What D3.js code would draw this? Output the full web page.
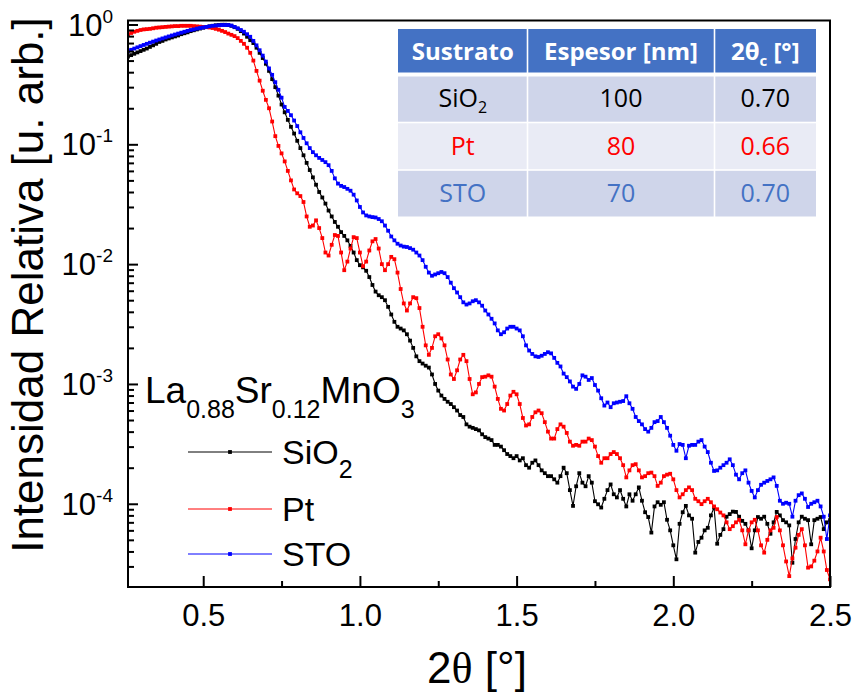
<!DOCTYPE html>
<html>
<head>
<meta charset="utf-8">
<script src="https://cdn.jsdelivr.net/npm/d3@7"></script>
<style>
  body { margin: 0; background: #fff; }
  svg { display: block; }
</style>
</head>
<body>
<svg id="chart" width="854" height="695"></svg>
<script>
// Reflectivity scans: normalized intensity vs 2θ, sampled every 0.01° from 0.26° to 2.50°
const scanStart = 0.26;
const scanStep = 0.01;

const sio2 = [
  0.54,0.555,0.57,0.585,0.60,0.615,0.63,0.65,0.67,0.69,
  0.715,0.73,0.75,0.765,0.78,0.795,0.81,0.83,0.845,0.86,
  0.88,0.895,0.91,0.925,0.94,0.955,0.965,0.975,0.985,0.99,
  0.995,0.995,0.99,0.975,0.95,0.92,0.88,0.84,0.79,0.74,
  0.70,0.64,0.58,0.525,0.47,0.41,0.35,0.30,0.255,0.215,
  0.185,0.16,0.14,0.123,0.107,0.093,0.081,0.070,0.061,0.053,
  0.046,0.040,0.036,0.032,0.028,0.025,0.0225,0.0205,0.0185,0.0172,
  0.0158,0.0142,0.0125,0.0108,0.0098,0.0094,0.0088,0.0078,0.0067,0.0059,
  0.0055,0.0053,0.0050,0.0044,0.0038,0.0033,0.0030,0.0029,0.0028,0.0026,
  0.0023,0.0020,0.0017,0.00155,0.00148,0.00142,0.00137,0.0012,0.0010,0.00088,
  0.0008,0.00075,0.00071,0.00068,0.00064,0.0006,0.00055,0.00053,0.00046,0.00044,
  0.00043,0.00042,0.00041,0.00038,0.00036,0.00035,0.00034,0.00031,0.00031,0.0003,
  0.00028,0.00026,0.00025,0.00024,0.00025,0.00023,0.00024,0.00021,0.0002,0.00022,
  0.00023,0.00021,0.00019,0.00018,0.00017,0.00017,0.00016,0.00015,0.00017,0.0002,
  0.00018,0.00013,0.000096,0.00014,0.00018,0.00015,0.00014,0.00017,0.00015,0.000105,
  0.000099,0.000093,0.00011,0.00013,0.000145,0.00012,0.000113,0.00013,0.00011,0.000095,
  0.00012,0.000106,0.00012,0.000137,0.000106,0.000085,0.0000775,0.0000575,0.000095,0.000103,
  0.000098,0.000103,0.0000735,0.00006,0.000045,0.0000344,0.000068,0.000085,0.000096,0.00008,
  0.000075,0.0000391,0.000048,0.0000521,0.00006,0.000063,0.00008,0.000093,0.0000464,0.000055,
  0.0000614,0.000078,0.000082,0.000086,0.0000855,0.000078,0.000072,0.000068,0.00006,0.0000425,
  0.00006,0.0000775,0.000075,0.000078,0.000068,0.0000562,0.00007,0.0000855,0.00008,0.000073,
  0.00007,0.000066,0.0000322,0.0000508,0.00007,0.000078,0.000075,0.000073,0.0000459,0.000073,
  0.000075,0.0000775,0.0000614,0.00007,0.000073
];

const pt = [
  0.82,0.85,0.87,0.885,0.90,0.91,0.915,0.92,0.93,0.94,
  0.945,0.95,0.955,0.96,0.965,0.97,0.97,0.975,0.975,0.975,
  0.975,0.97,0.965,0.96,0.955,0.95,0.945,0.935,0.92,0.905,
  0.885,0.865,0.84,0.82,0.80,0.77,0.73,0.69,0.64,0.58,
  0.50,0.41,0.34,0.28,0.235,0.20,0.155,0.117,0.097,0.084,
  0.072,0.060,0.050,0.042,0.039,0.037,0.033,0.025,0.0205,0.021,
  0.0232,0.020,0.0165,0.0125,0.0118,0.0145,0.0175,0.0172,0.0125,0.0089,
  0.0105,0.0135,0.0168,0.0165,0.0125,0.0096,0.0105,0.013,0.0155,0.0162,
  0.0135,0.010,0.0089,0.010,0.0115,0.011,0.0085,0.0062,0.0047,0.0041,
  0.0047,0.0053,0.0052,0.0043,0.003,0.0021,0.00175,0.002,0.0025,0.0026,
  0.0024,0.0021,0.0016,0.0012,0.0011,0.0013,0.0016,0.00175,0.00155,0.0011,
  0.00082,0.00085,0.001,0.00114,0.00115,0.00118,0.00115,0.00095,0.00075,0.00062,
  0.0006,0.00068,0.0008,0.00086,0.00082,0.00068,0.00052,0.00045,0.00046,0.00053,
  0.00058,0.0006,0.00057,0.00048,0.0004,0.00035,0.00035,0.00042,0.00046,0.00044,
  0.00039,0.00033,0.000305,0.00031,0.000305,0.00033,0.00033,0.00035,0.00034,0.0003,
  0.00025,0.00022,0.00024,0.00024,0.00026,0.00027,0.00026,0.00024,0.00021,0.000166,
  0.00019,0.00021,0.000214,0.00019,0.000166,0.00017,0.00018,0.000182,0.00017,0.000141,
  0.00015,0.00017,0.000175,0.000178,0.00016,0.00013,0.000113,0.00012,0.00013,0.000137,
  0.00013,0.00011,0.000105,0.0000993,0.000105,0.00011,0.000103,0.000095,0.00009,0.0000845,
  0.00008,0.00007,0.0000614,0.000065,0.00007,0.0000735,0.00006,0.0000459,0.00006,0.00007,
  0.0000735,0.00006,0.000045,0.0000391,0.00005,0.00006,0.000063,0.0000775,0.00006,0.000045,
  0.000033,0.0000249,0.000035,0.000043,0.000055,0.0000614,0.000045,0.0000293,0.00003,0.0000335,
  0.00004,0.0000521,0.00004,0.000028,0.0000234
];

const sto = [
  0.60,0.615,0.63,0.645,0.66,0.675,0.69,0.705,0.72,0.735,
  0.75,0.765,0.78,0.795,0.81,0.825,0.84,0.855,0.87,0.885,
  0.90,0.91,0.925,0.935,0.945,0.955,0.965,0.975,0.98,0.985,
  0.99,0.99,0.99,0.98,0.955,0.93,0.90,0.87,0.83,0.79,
  0.73,0.67,0.61,0.55,0.49,0.43,0.38,0.33,0.285,0.245,
  0.205,0.19,0.175,0.158,0.142,0.126,0.113,0.102,0.093,0.086,
  0.081,0.077,0.074,0.071,0.067,0.060,0.052,0.047,0.045,0.044,
  0.0425,0.041,0.038,0.034,0.030,0.027,0.0255,0.025,0.0247,0.0245,
  0.0238,0.0228,0.021,0.019,0.017,0.0158,0.0148,0.0143,0.014,0.0139,
  0.0136,0.0132,0.0125,0.0118,0.0108,0.0095,0.0085,0.008,0.0082,0.0084,
  0.0086,0.0084,0.0078,0.007,0.0063,0.0058,0.0053,0.0048,0.0046,0.0047,
  0.0049,0.005,0.0048,0.0045,0.0041,0.0038,0.0035,0.0032,0.0028,0.0026,
  0.0027,0.0029,0.003,0.003,0.0029,0.0028,0.0025,0.0021,0.0019,0.00178,
  0.0017,0.00168,0.00172,0.00178,0.00184,0.0018,0.00165,0.0015,0.0014,0.00122,
  0.00114,0.00105,0.00095,0.00091,0.001,0.00118,0.00115,0.00108,0.00112,0.00098,
  0.00088,0.00076,0.00066,0.0007,0.00064,0.00069,0.0007,0.00071,0.00072,0.00079,
  0.00069,0.00062,0.00053,0.00049,0.00046,0.00042,0.0004,0.00043,0.00048,0.00049,
  0.00053,0.00048,0.00043,0.00037,0.00031,0.000277,0.000315,0.00031,0.00024,0.000305,
  0.00031,0.00031,0.00033,0.00034,0.0003,0.00027,0.00022,0.000188,0.00019,0.0002,
  0.00021,0.00022,0.000235,0.00021,0.000175,0.00016,0.00018,0.00019,0.00015,0.000128,
  0.000113,0.00013,0.000144,0.00015,0.000155,0.00016,0.000166,0.000141,0.000106,0.0001,
  0.000102,0.0001,0.000078,0.000106,0.000118,0.000122,0.00011,0.000094,0.0001,0.000103,
  0.000106,0.000095,0.000078,0.0000508,0.00008
];

const seriesNames = ["SiO2", "Pt", "STO"];
const seriesColors = ["#000000", "#ff0000", "#0000ff"];

const xTicks = [0.5, 1.0, 1.5, 2.0, 2.5];
const xMinorTicks = [0.75, 1.25, 1.75, 2.25];
const yTicks = [1, 1e-1, 1e-2, 1e-3, 1e-4];
const yExponents = ["0", "-1", "-2", "-3", "-4"];

const tableHead = ["Sustrato", "Espesor [nm]", "2θc [°]"];
const tableSubstrates = ["SiO2", "Pt", "STO"];
const tableThickness = ["100", "80", "70"];
const tableCritical = ["0.70", "0.66", "0.70"];
const tableTextColors = ["#000000", "#ff0000", "#4472c4"];

// ---------------------------------------------------------------
const svg = d3.select("#chart");
const plotLeft = 128, plotRight = 830, plotTop = 20.5, plotBottom = 587;

const x = d3.scaleLinear().domain([0.26, 2.5]).range([plotLeft, plotRight]);
const y = d3.scaleLog().domain([2.02e-5, 1.08]).range([plotBottom, plotTop]);

const asPoints = vals => vals.map((v, i) => ({ t: scanStart + i * scanStep, v }));
const series = [sio2, pt, sto].map((vals, k) => ({
  name: seriesNames[k], color: seriesColors[k], points: asPoints(vals)
}));

svg.append("defs").append("clipPath").attr("id", "plotClip")
  .append("rect").attr("x", plotLeft).attr("y", plotTop)
  .attr("width", plotRight - plotLeft).attr("height", plotBottom - plotTop);

// data curves with square markers
const line = d3.line().x(d => x(d.t)).y(d => y(d.v));
const plot = svg.append("g").attr("clip-path", "url(#plotClip)");
const ms = 3.8;
series.forEach(s => {
  const g = plot.append("g");
  g.append("path").datum(s.points)
    .attr("d", line).attr("fill", "none")
    .attr("stroke", s.color).attr("stroke-width", 1.1);
  g.selectAll("rect").data(s.points).join("rect")
    .attr("x", d => x(d.t) - ms / 2).attr("y", d => y(d.v) - ms / 2)
    .attr("width", ms).attr("height", ms).attr("fill", s.color);
});

// axes: ticks point inwards
const minorY = [];
for (let e = -5; e <= 0; e++) {
  for (let m = 2; m <= 9; m++) {
    const v = m * Math.pow(10, e);
    if (v > y.domain()[0] && v < y.domain()[1]) minorY.push(v);
  }
}
const tickStyle = g => {
  g.select(".domain").remove();
  g.selectAll("line").attr("stroke", "#000").attr("stroke-width", 2);
};

svg.append("g").attr("transform", `translate(${plotLeft},0)`)
  .call(d3.axisLeft(y).tickValues(yTicks).tickSize(-10).tickFormat(""))
  .call(tickStyle);
svg.append("g").attr("transform", `translate(${plotLeft},0)`)
  .call(d3.axisLeft(y).tickValues(minorY).tickSize(-6).tickFormat(""))
  .call(tickStyle);

svg.append("g").attr("transform", `translate(0,${plotBottom})`)
  .call(d3.axisBottom(x).tickValues(xTicks).tickSize(-11).tickPadding(17)
        .tickFormat(d3.format(".1f")))
  .call(tickStyle)
  .call(g => g.selectAll("text").attr("fill", "#000")
        .attr("font-family", "'Liberation Sans', Arial, sans-serif")
        .attr("font-size", 31));
svg.append("g").attr("transform", `translate(0,${plotBottom})`)
  .call(d3.axisBottom(x).tickValues(xMinorTicks).tickSize(-6).tickFormat(""))
  .call(tickStyle);

// y tick labels as powers of ten
const yLab = svg.append("g")
  .attr("font-family", "'Liberation Sans', Arial, sans-serif")
  .attr("fill", "#000");
yTicks.forEach((v, i) => {
  const t = yLab.append("text")
    .attr("x", 113).attr("y", y(v) + 11)
    .attr("text-anchor", "end").attr("font-size", 31);
  t.append("tspan").text("10");
  t.append("tspan").attr("dy", -13).attr("font-size", 19).text(yExponents[i]);
});

// frame
svg.append("rect")
  .attr("x", plotLeft).attr("y", plotTop)
  .attr("width", plotRight - plotLeft).attr("height", plotBottom - plotTop)
  .attr("fill", "none").attr("stroke", "#000").attr("stroke-width", 2);

// axis titles
svg.append("text")
  .attr("transform", "translate(43,285) rotate(-90)")
  .attr("text-anchor", "middle")
  .attr("font-family", "'Liberation Sans', Arial, sans-serif")
  .attr("font-size", 44)
  .text("Intensidad Relativa [u. arb.]");

const xt = svg.append("text")
  .attr("x", 477).attr("y", 683)
  .attr("text-anchor", "middle")
  .attr("font-family", "'Liberation Sans', Arial, sans-serif")
  .attr("font-size", 44);
xt.append("tspan").text("2");
xt.append("tspan").attr("font-family", "'Liberation Serif', 'Times New Roman', serif").text("θ");
xt.append("tspan").text(" [°]");

// legend
const lf = "'Liberation Sans', Arial, sans-serif";
const lt = svg.append("text").attr("x", 145).attr("y", 403)
  .attr("font-family", lf).attr("font-size", 37);
[["La", 0], ["0.88", 1], ["Sr", 0], ["0.12", 1], ["MnO", 0], ["3", 1]].forEach(([s, sub], i, arr) => {
  const prevSub = i > 0 ? arr[i - 1][1] : 0;
  const dy = sub && !prevSub ? 15 : (!sub && prevSub ? -15 : 0);
  lt.append("tspan").attr("dy", dy).attr("font-size", sub ? 25 : 37).text(s);
});

const legendRows = [452, 509, 554];
series.forEach((s, i) => {
  const ly = legendRows[i];
  svg.append("line").attr("x1", 188).attr("x2", 272).attr("y1", ly).attr("y2", ly)
    .attr("stroke", s.color).attr("stroke-width", 1);
  svg.append("rect").attr("x", 230 - ms / 2).attr("y", ly - ms / 2)
    .attr("width", ms).attr("height", ms).attr("fill", s.color);
  const t = svg.append("text").attr("x", 282).attr("y", ly + 12)
    .attr("font-family", lf).attr("font-size", 34);
  if (s.name === "SiO2") {
    t.append("tspan").text("SiO");
    t.append("tspan").attr("dy", 14).attr("font-size", 25).text("2");
  } else {
    t.text(s.name);
  }
});

// inset table
const colEdges = [398, 527.5, 714.5, 816];
const rowEdges = [29, 74.5, 122.5, 170, 216.5];
const rowFills = ["#4472c4", "#cfd5ea", "#e9ebf5", "#cfd5ea"];
const tf = "'Open Sans', Lato, sans-serif";
const table = svg.append("g");
for (let r = 0; r < 4; r++) {
  for (let c = 0; c < 3; c++) {
    const gapTop = r === 1 ? 2 : 0.8;
    table.append("rect")
      .attr("x", colEdges[c] + (c ? 0.8 : 0))
      .attr("y", rowEdges[r] + (r ? gapTop : 0))
      .attr("width", colEdges[c + 1] - colEdges[c] - (c ? 0.8 : 0) - (c < 2 ? 0.8 : 0))
      .attr("height", rowEdges[r + 1] - rowEdges[r] - (r ? gapTop : 0) - (r < 3 ? (r === 0 ? 2 : 0.8) : 0))
      .attr("fill", rowFills[r]);
  }
}
const cellCenter = c => (colEdges[c] + colEdges[c + 1]) / 2;
const rowMid = r => (rowEdges[r] + rowEdges[r + 1]) / 2;

const writeCell = (r, c, color, bold) => table.append("text")
  .attr("x", cellCenter(c)).attr("y", rowMid(r) + 8.5)
  .attr("text-anchor", "middle")
  .attr("font-family", tf).attr("font-size", bold ? 24 : 25)
  .attr("font-weight", bold ? "bold" : "normal")
  .attr("fill", color);

// header
writeCell(0, 0, "#fff", true).text(tableHead[0]);
writeCell(0, 1, "#fff", true).text(tableHead[1]);
{
  const t = writeCell(0, 2, "#fff", true);
  t.append("tspan").text("2θ");
  t.append("tspan").attr("dy", 6).attr("font-size", 15).text("c");
  t.append("tspan").attr("dy", -6).text(" [°]");
}
tableSubstrates.forEach((s, i) => {
  const t = writeCell(i + 1, 0, tableTextColors[i], false);
  if (s === "SiO2") {
    t.append("tspan").text("SiO");
    t.append("tspan").attr("dy", 6).attr("font-size", 16).text("2");
  } else {
    t.text(s);
  }
  writeCell(i + 1, 1, tableTextColors[i], false).text(tableThickness[i]);
  writeCell(i + 1, 2, tableTextColors[i], false).text(tableCritical[i]);
});
</script>
</body>
</html>
